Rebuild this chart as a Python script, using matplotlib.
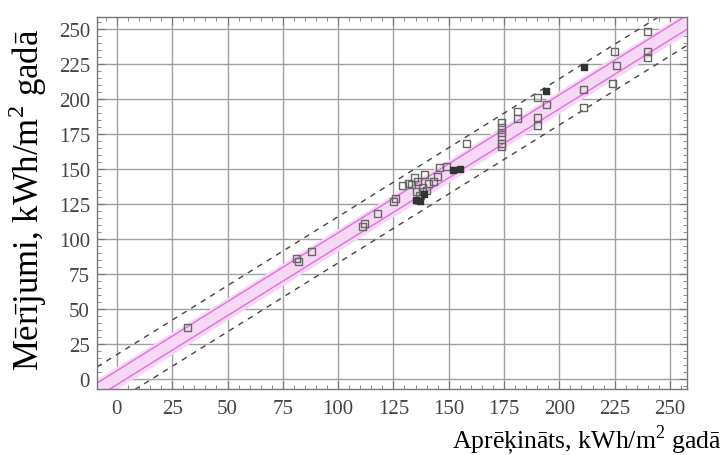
import matplotlib
matplotlib.use("Agg")
import matplotlib.pyplot as plt
import numpy as np
from matplotlib.ticker import MultipleLocator

plt.rcParams['font.family'] = ['Liberation Serif', 'DejaVu Serif']
plt.rcParams['mathtext.fontset'] = 'custom'
plt.rcParams['mathtext.rm'] = 'Liberation Serif'

# open square markers (calculated, measured)
x_open = [32, 81, 82, 88, 111, 112, 118, 125, 126, 129, 132, 133, 134.7, 135.6, 136, 137, 138, 138, 139,
          140, 141, 143, 145, 146, 149, 158, 174, 174, 174, 174, 174, 174, 181, 181, 190, 190, 190,
          194, 211, 211, 224, 225, 226, 240, 240, 240]
y_open = [37, 86, 84, 91, 109, 111, 118, 127, 129, 138, 140, 139, 144, 134, 141, 131, 137, 134, 146,
          135, 140, 141, 145, 151, 152, 168, 183, 180, 176, 173, 168, 166, 191, 186, 201, 187, 181,
          196, 207, 194, 211, 234, 224, 248, 234, 230]
# dark filled markers
x_filled = [135, 137, 139, 152, 155, 194, 211]
y_filled = [128, 127, 132, 149, 150, 206, 223]

# regression fit and bands
fit_slope = 0.985
fit_intercept = 1.0
conf_half = 5.0
band_half = 8.0
pred_half = 16.5

fig = plt.figure(figsize=(7.27, 4.56), dpi=100)
ax = fig.add_axes([97/727, 1-390/456, (687-97)/727, (390-18)/456])

xx = np.array([-9, 258])
yc = fit_slope*xx + fit_intercept
ax.fill_between(xx, yc-band_half, yc+band_half, color='#f6d8f4', zorder=1, lw=0)
ax.plot(xx, yc-conf_half, color='#e070e0', lw=1.0, zorder=2)
ax.plot(xx, yc+conf_half, color='#e070e0', lw=1.0, zorder=2)
ax.plot(xx, yc-pred_half, color='#444444', lw=1.0, ls=(0, (4, 4)), zorder=2)
ax.plot(xx, yc+pred_half, color='#444444', lw=1.0, ls=(0, (4, 4)), zorder=2)

ax.scatter(x_open, y_open, marker='s', s=26, facecolors='none', edgecolors='#666666', linewidths=1.0, zorder=3)
ax.scatter(x_filled, y_filled, marker='s', s=22, facecolors='#333333', edgecolors='#333333', linewidths=1.0, zorder=3)

ax.set_xlim(-9, 257.7)
ax.set_ylim(-7.1, 258.6)
ticks = list(range(0, 251, 25))
ax.set_xticks(ticks)
ax.set_yticks(ticks)
ax.xaxis.set_minor_locator(MultipleLocator(5))
ax.yaxis.set_minor_locator(MultipleLocator(5))
ax.grid(True, which='major', color='#a0a0a0', lw=1.0, zorder=0)
ax.set_axisbelow(True)
ax.tick_params(which='both', direction='in', top=True, right=True, colors='#777777',
               labelcolor='#444444', labelsize=15)
ax.tick_params(which='major', length=6)
ax.tick_params(which='minor', length=3)
ax.tick_params(axis='x', pad=7)
ax.tick_params(axis='y', pad=5)
for s in ax.spines.values():
    s.set_color('#777777')
    s.set_linewidth(1.0)

fig.text(722/727, 1-440/456, 'Aprēķināts, kWh/m$^2$ gadā', ha='right', va='center', fontsize=18.5)
fig.text(28/727, 1-200/456, 'Mērījumi, kWh/m$^2$ gadā', ha='center', va='center', rotation=90, fontsize=25)

fig.savefig('out.png', dpi=100)
